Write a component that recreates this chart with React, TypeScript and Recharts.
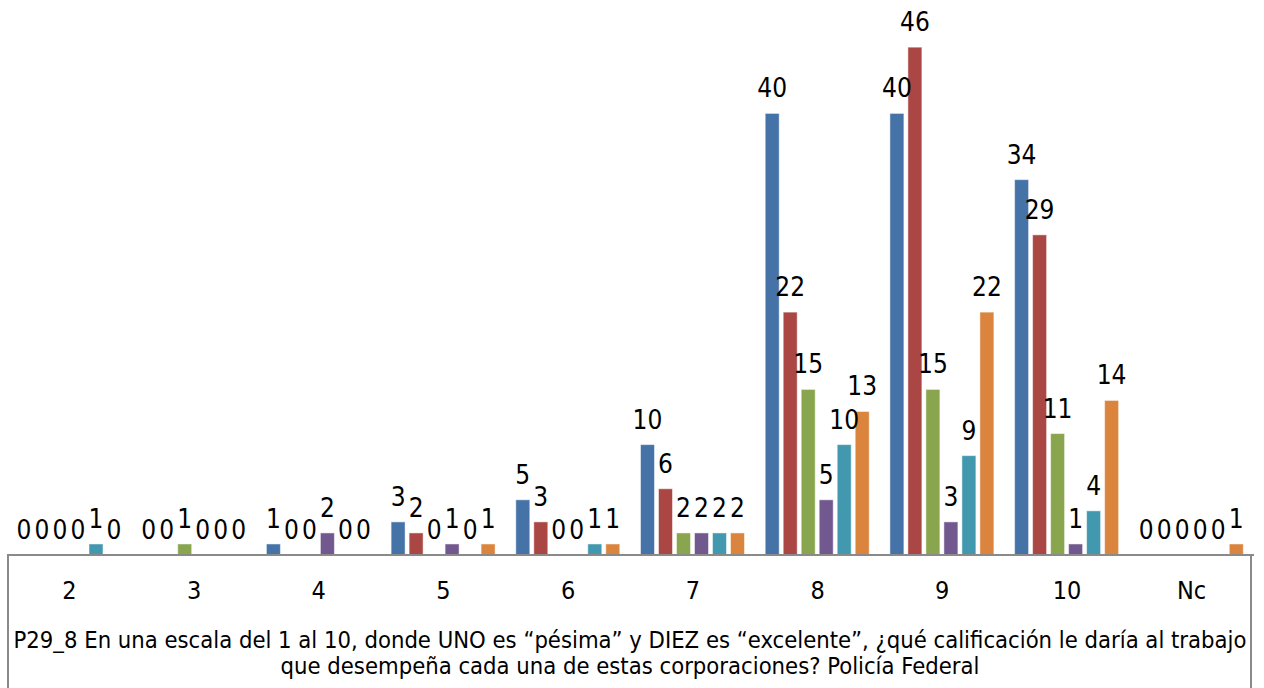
import React from 'react';
import { BarChart, Bar, XAxis, YAxis, LabelList } from 'recharts';

const categories = ['2', '3', '4', '5', '6', '7', '8', '9', '10', 'Nc'];
const serie1 = [0, 0, 1, 3, 5, 10, 40, 40, 34, 0];
const serie2 = [0, 0, 0, 2, 3, 6, 22, 46, 29, 0];
const serie3 = [0, 1, 0, 0, 0, 2, 15, 15, 11, 0];
const serie4 = [0, 0, 2, 1, 0, 2, 5, 3, 1, 0];
const serie5 = [1, 0, 0, 0, 1, 2, 10, 9, 4, 0];
const serie6 = [0, 0, 0, 1, 1, 2, 13, 22, 14, 1];
const seriesNames = ['Serie1', 'Serie2', 'Serie3', 'Serie4', 'Serie5', 'Serie6'];
const seriesValues = [serie1, serie2, serie3, serie4, serie5, serie6];
const colors = ['#4572A7', '#AA4643', '#89A54E', '#71588F', '#4198AF', '#DB843D'];
const titleLine1 = 'P29_8 En una escala del 1 al 10, donde UNO es “pésima” y DIEZ es “excelente”, ¿qué calificación le daría al trabajo';
const titleLine2 = 'que desempeña cada una de estas corporaciones? Policía Federal';

const data = categories.map((c, i) => {
  const row: Record<string, string | number> = { cat: c };
  seriesNames.forEach((n, k) => {
    row[n] = seriesValues[k][i];
  });
  return row;
});

const FONT = "'Liberation Sans Narrow', 'DejaVu Sans Condensed', 'Liberation Sans', sans-serif";
const W = 1264;
const H = 688;
const PLOT_BOTTOM = 555;
const XAXIS_H = 30;
const LABEL_SIZE = 26;
const LABEL_OFFSET = 16;

const ValueLabel = (props: any) => {
  const { x, y, width, value } = props;
  if (!value) return null;
  return (
    <text x={x + width / 2} y={y - LABEL_OFFSET} textAnchor="middle" fontFamily={FONT} fontSize={LABEL_SIZE} fill="#000">
      {value}
    </text>
  );
};

const makeShape = (key: string) => (props: any) => {
  const { x, y, width, height, fill, payload } = props;
  const v = payload ? payload[key] : undefined;
  return (
    <g>
      {height > 0 && (
        <rect x={x} y={y} width={width} height={height} fill={fill} stroke="#ffffff" strokeOpacity={0.5} strokeWidth={1} />
      )}
      {v === 0 && (
        <text x={x + width / 2} y={y + height - LABEL_OFFSET} textAnchor="middle" fontFamily={FONT} fontSize={LABEL_SIZE} fill="#000">
          0
        </text>
      )}
    </g>
  );
};

const CatTick = (props: any) => {
  const { x, payload } = props;
  return (
    <text x={x} y={PLOT_BOTTOM + 44} textAnchor="middle" fontFamily={FONT} fontSize={25} fill="#000">
      {payload.value}
    </text>
  );
};

export default function App() {
  return (
    <div style={{ position: 'absolute', left: 0, top: 0, width: W, height: H, background: '#fff', overflow: 'hidden' }}>
      <BarChart
        width={W}
        height={H}
        data={data}
        margin={{ top: 3, right: 10, left: 7, bottom: H - PLOT_BOTTOM - XAXIS_H }}
        barSize={14}
        barGap={4}
      >
        <YAxis hide domain={[0, 50]} />
        <XAxis
          dataKey="cat"
          height={XAXIS_H}
          tickLine={false}
          axisLine={{ stroke: '#8a8a8a', strokeWidth: 2 }}
          tick={<CatTick />}
          interval={0}
        />
        {seriesNames.map((n, k) => (
          <Bar key={n} dataKey={n} fill={colors[k]} shape={makeShape(n)} isAnimationActive={false}>
            <LabelList dataKey={n} content={<ValueLabel />} />
          </Bar>
        ))}
      </BarChart>
      <div
        style={{
          position: 'absolute',
          left: 7,
          top: PLOT_BOTTOM,
          width: 1245,
          height: 200,
          borderLeft: '2px solid #8a8a8a',
          borderRight: '2px solid #8a8a8a',
          boxSizing: 'border-box',
          pointerEvents: 'none',
        }}
      />
      <div
        style={{
          position: 'absolute',
          left: 8,
          top: 627,
          width: 1244,
          textAlign: 'center',
          fontFamily: FONT,
          fontSize: 23.6,
          lineHeight: '26px',
          color: '#000',
          whiteSpace: 'nowrap',
        }}
      >
        <div>{titleLine1}</div>
        <div>{titleLine2}</div>
      </div>
    </div>
  );
}
